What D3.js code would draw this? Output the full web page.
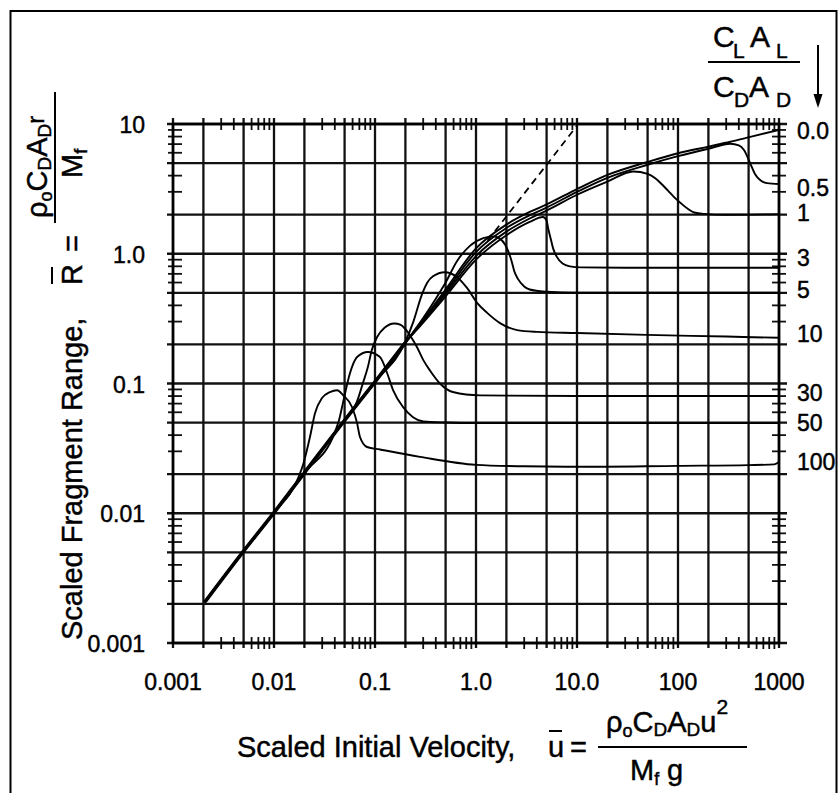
<!DOCTYPE html>
<html>
<head>
<meta charset="utf-8">
<script src="https://cdn.jsdelivr.net/npm/d3@7/dist/d3.min.js"></script>
<style>
  html, body { margin: 0; padding: 0; background: #fff; }
  svg { display: block; }
  text { font-family: "Liberation Sans", Arial, Helvetica, sans-serif; fill: #000; stroke: #000; stroke-width: 0.45px; }
</style>
</head>
<body>
<script>
// ---------------- data ----------------
const xTickValues = [0.001, 0.01, 0.1, 1, 10, 100, 1000];
const xTickLabels = ["0.001", "0.01", "0.1", "1.0", "10.0", "100", "1000"];
const yTickValues = [0.001, 0.01, 0.1, 1, 10];
const yTickLabels = ["0.001", "0.01", "0.1", "1.0", "10"];
const gridMultipliers = [1, 2, 5];
const minorMultipliers = [3, 4, 6, 7, 8, 9];

const liftRatioLabels = ["0.0", "0.5", "1", "3", "5", "10", "30", "50", "100"];
const liftLabelAt = [8.9, 3.2, 2.05, 0.93, 0.53, 0.24, 0.084, 0.05, 0.025];

// shared low-velocity trunk (u, R)
const trunk = [[0.0021,0.0021],[0.005,0.0051],[0.01,0.0101],[0.02,0.0205],[0.05,0.052],[0.1,0.103],[0.2,0.207]];

const curve0_0 = [[0.3,0.31],[0.5,0.53],[1,1.1],[2,1.68],[3.4,2.1],[5,2.4],[10,3.15],[20,4.05],[50,5.1],[100,5.95],[200,6.7],[330,7.3],[520,7.95],[1000,9.0]];
const curve0_5 = [[0.3,0.305],[0.5,0.51],[1,1.03],[2,1.58],[3.4,1.98],[5,2.27],[10,3.0],[20,3.85],[50,4.85],[100,5.65],[200,6.45],[330,7.05],[400,6.85],[450,6.3],[517,5.0],[580,4.1],[650,3.7],[760,3.5],[1000,3.45]];
const curve1 = [[0.3,0.30],[0.5,0.49],[1,0.96],[2,1.48],[3.4,1.87],[5,2.15],[10,2.85],[20,3.6],[36,4.3],[50,4.12],[60,3.8],[70,3.4],[80,3.05],[92,2.72],[105,2.48],[125,2.22],[145,2.08],[180,2.03],[300,2.0],[1000,2.02]];
const curve3 = [[0.3,0.295],[0.5,0.47],[1,0.9],[2,1.39],[3.4,1.76],[4.6,1.92],[5.0,1.8],[5.2,1.55],[5.5,1.3],[5.8,1.1],[6.3,0.95],[7.2,0.84],[8.5,0.8],[11,0.785],[30,0.78],[1000,0.78]];
const curve5 = [[0.3,0.32],[0.4,0.45],[0.5,0.6],[0.65,0.88],[0.87,1.15],[1.18,1.32],[1.5,1.36],[1.8,1.27],[2.06,1.07],[2.25,0.88],[2.4,0.73],[2.6,0.64],[3.0,0.56],[3.4,0.53],[5,0.51],[10,0.5],[1000,0.5]];
const curve10 = [[0.2,0.21],[0.24,0.3],[0.29,0.48],[0.33,0.6],[0.375,0.67],[0.49,0.72],[0.65,0.66],[0.815,0.545],[1.02,0.42],[1.29,0.35],[1.73,0.292],[2.55,0.258],[4,0.25],[10,0.245],[49,0.237],[300,0.23],[1000,0.225]];
const curve30 = [[0.058,0.06],[0.066,0.072],[0.076,0.101],[0.085,0.134],[0.093,0.181],[0.105,0.228],[0.125,0.27],[0.155,0.29],[0.18,0.283],[0.2,0.262],[0.23,0.225],[0.26,0.191],[0.3,0.152],[0.35,0.126],[0.44,0.1],[0.59,0.086],[1.1,0.081],[10,0.08],[1000,0.08]];
const curve50 = [[0.04,0.042],[0.044,0.052],[0.048,0.07],[0.0565,0.12],[0.0664,0.16],[0.085,0.175],[0.112,0.16],[0.132,0.12],[0.151,0.089],[0.189,0.066],[0.238,0.055],[0.3,0.051],[0.5,0.05],[1,0.0495],[1000,0.0495]];
const curve100 = [[0.0175,0.019],[0.0195,0.024],[0.0227,0.0387],[0.0255,0.0593],[0.0299,0.0773],[0.0358,0.0859],[0.0422,0.0887],[0.0482,0.0815],[0.0592,0.0659],[0.0664,0.0497],[0.071,0.0387],[0.0834,0.0324],[0.112,0.031],[0.279,0.0272],[1,0.0236],[3,0.023],[10,0.0228],[100,0.0232],[500,0.0235],[900,0.0238],[1000,0.0248]];

const dashedRef = [[1.3,1.26],[10,9.7]];

// ---------------- drawing ----------------
const W = 838, H = 793;
const svg = d3.select("body").append("svg").attr("width", W).attr("height", H);

// outer frame (bottom edge falls outside the picture)
svg.append("rect").attr("x", 10.5).attr("y", 11).attr("width", 826).attr("height", 800)
  .attr("fill", "none").attr("stroke", "#000").attr("stroke-width", 2);

const x = d3.scaleLog().domain([0.001, 1000]).range([173, 779]);
const y = d3.scaleLog().domain([0.001, 10]).range([643, 124]);

const xDecades = d3.range(-3, 3).map(p => Math.pow(10, p));   // 0.001 .. 100
const yDecades = d3.range(-3, 1).map(p => Math.pow(10, p));   // 0.001 .. 1

const gridX = [];
xDecades.forEach(d => gridMultipliers.forEach(m => gridX.push(+(d * m).toPrecision(3))));
gridX.push(1000);
const gridY = [];
yDecades.forEach(d => gridMultipliers.forEach(m => gridY.push(+(d * m).toPrecision(3))));
gridY.push(10);
const minorX = [];
xDecades.forEach(d => minorMultipliers.forEach(m => minorX.push(d * m)));
const minorY = [];
yDecades.forEach(d => minorMultipliers.forEach(m => minorY.push(d * m)));

const g = svg.append("g");

// grid lines (extend a little past the frame)
g.selectAll("line.gx").data(gridX).join("line").attr("class", "gx")
  .attr("x1", d => x(d)).attr("x2", d => x(d))
  .attr("y1", 118).attr("y2", 648)
  .attr("stroke", "#111").attr("stroke-width", 2.3);
g.selectAll("line.gy").data(gridY).join("line").attr("class", "gy")
  .attr("y1", d => y(d)).attr("y2", d => y(d))
  .attr("x1", 167).attr("x2", 787)
  .attr("stroke", "#111").attr("stroke-width", 2.3);

// minor ticks on all four sides
const tickStroke = 1.8;
g.selectAll("line.mb").data(minorX).join("line").attr("class", "mb")
  .attr("x1", d => x(d)).attr("x2", d => x(d)).attr("y1", 637).attr("y2", 649)
  .attr("stroke", "#111").attr("stroke-width", tickStroke);
g.selectAll("line.mt").data(minorX).join("line").attr("class", "mt")
  .attr("x1", d => x(d)).attr("x2", d => x(d)).attr("y1", 118).attr("y2", 130)
  .attr("stroke", "#111").attr("stroke-width", tickStroke);
g.selectAll("line.ml").data(minorY).join("line").attr("class", "ml")
  .attr("y1", d => y(d)).attr("y2", d => y(d)).attr("x1", 168).attr("x2", 182)
  .attr("stroke", "#111").attr("stroke-width", tickStroke);
g.selectAll("line.mr").data(minorY).join("line").attr("class", "mr")
  .attr("y1", d => y(d)).attr("y2", d => y(d)).attr("x1", 772).attr("x2", 786)
  .attr("stroke", "#111").attr("stroke-width", tickStroke);

// plot frame
g.append("rect").attr("x", x(0.001)).attr("y", y(10))
  .attr("width", x(1000) - x(0.001)).attr("height", y(0.001) - y(10))
  .attr("fill", "none").attr("stroke", "#000").attr("stroke-width", 2.6);

// tick labels
g.selectAll("text.xt").data(xTickValues).join("text").attr("class", "xt")
  .attr("x", d => x(d)).attr("y", 690).attr("text-anchor", "middle")
  .attr("font-size", 23).text((d, i) => xTickLabels[i]);
g.selectAll("text.yt").data(yTickValues).join("text").attr("class", "yt")
  .attr("x", 145).attr("y", d => y(d) + 9).attr("text-anchor", "end")
  .attr("font-size", 23).text((d, i) => yTickLabels[i]);

// curves
const line = d3.line().x(d => x(d[0])).y(d => y(d[1])).curve(d3.curveMonotoneX);
function withTrunk(own) {
  const u0 = own[0][0];
  return trunk.filter(p => p[0] < u0 * 0.97).concat(own);
}
const allCurves = [curve0_0, curve0_5, curve1, curve3, curve5, curve10, curve30, curve50, curve100];

const cg = svg.append("g").attr("fill", "none").attr("stroke", "#000")
  .attr("stroke-linejoin", "round").attr("stroke-linecap", "round");
cg.append("path").attr("d", line(trunk)).attr("stroke-width", 3.6);
cg.selectAll("path.c").data(allCurves).join("path").attr("class", "c")
  .attr("d", d => line(withTrunk(d))).attr("stroke-width", 1.9);
cg.append("path").attr("d", d3.line().x(d => x(d[0])).y(d => y(d[1]))(dashedRef))
  .attr("stroke-width", 1.8).attr("stroke-dasharray", "7,5").attr("stroke-linecap", "butt");

// right-hand lift-ratio labels
svg.selectAll("text.lr").data(liftRatioLabels).join("text").attr("class", "lr")
  .attr("x", 797).attr("y", (d, i) => y(liftLabelAt[i]) + 8)
  .attr("font-size", 23).text(d => d);

// header fraction C_L A_L / C_D A_D with arrow
const hdr = svg.append("g");
const hNum = hdr.append("text").attr("font-size", 30);
hNum.append("tspan").attr("x", 713).attr("y", 47).text("C");
hNum.append("tspan").attr("x", 733).attr("y", 58).attr("font-size", 21).text("L");
hNum.append("tspan").attr("x", 750).attr("y", 47).text("A");
hNum.append("tspan").attr("x", 776).attr("y", 58).attr("font-size", 21).text("L");
hdr.append("line").attr("x1", 708).attr("x2", 800).attr("y1", 62).attr("y2", 62)
  .attr("stroke", "#000").attr("stroke-width", 2);
const hDen = hdr.append("text").attr("font-size", 30);
hDen.append("tspan").attr("x", 713).attr("y", 97).text("C");
hDen.append("tspan").attr("x", 734).attr("y", 107).attr("font-size", 21).text("D");
hDen.append("tspan").attr("x", 749).attr("y", 97).text("A");
hDen.append("tspan").attr("x", 776).attr("y", 107).attr("font-size", 21).text("D");
hdr.append("line").attr("x1", 818).attr("x2", 818).attr("y1", 45).attr("y2", 97)
  .attr("stroke", "#000").attr("stroke-width", 2);
hdr.append("path").attr("d", "M813.5,94 L822.5,94 L818,108 Z").attr("fill", "#000");

// x axis title
const xt = svg.append("g");
xt.append("text").attr("x", 237).attr("y", 757).attr("font-size", 29).text("Scaled Initial Velocity,");
xt.append("text").attr("x", 548).attr("y", 757).attr("font-size", 29).text("u");
xt.append("line").attr("x1", 549).attr("x2", 562).attr("y1", 731).attr("y2", 731)
  .attr("stroke", "#000").attr("stroke-width", 2);
xt.append("text").attr("x", 570).attr("y", 757).attr("font-size", 29).text("=");
xt.append("line").attr("x1", 598).attr("x2", 747).attr("y1", 747).attr("y2", 747)
  .attr("stroke", "#000").attr("stroke-width", 2);
const xn = xt.append("text").attr("font-size", 29);
xn.append("tspan").attr("x", 606).attr("y", 732).text("ρ");
xn.append("tspan").attr("y", 737).attr("font-size", 18).text("o");
xn.append("tspan").attr("y", 732).text("C");
xn.append("tspan").attr("y", 736).attr("font-size", 19).text("D");
xn.append("tspan").attr("y", 732).text("A");
xn.append("tspan").attr("y", 736).attr("font-size", 19).text("D");
xn.append("tspan").attr("y", 732).text("u");
xn.append("tspan").attr("y", 714).attr("font-size", 21).text("2");
const xd = xt.append("text").attr("font-size", 29);
xd.append("tspan").attr("x", 630).attr("y", 780).text("M");
xd.append("tspan").attr("y", 785).attr("font-size", 18).text("f");
xd.append("tspan").attr("x", 667).attr("y", 780).text("g");

// y axis title (rotated)
const yt = svg.append("g").attr("transform", "rotate(-90)");
yt.append("text").attr("x", -640).attr("y", 82).attr("font-size", 29).text("Scaled Fragment Range,");
yt.append("text").attr("x", -285).attr("y", 82).attr("font-size", 29).text("R");
yt.append("line").attr("x1", -284).attr("x2", -267).attr("y1", 52).attr("y2", 52)
  .attr("stroke", "#000").attr("stroke-width", 2);
yt.append("text").attr("x", -252).attr("y", 82).attr("font-size", 29).text("=");
yt.append("line").attr("x1", -223).attr("x2", -92).attr("y1", 55).attr("y2", 55)
  .attr("stroke", "#000").attr("stroke-width", 2);
const yn = yt.append("text").attr("font-size", 29);
yn.append("tspan").attr("x", -218).attr("y", 47).text("ρ");
yn.append("tspan").attr("y", 52).attr("font-size", 18).text("o");
yn.append("tspan").attr("y", 47).text("C");
yn.append("tspan").attr("y", 51).attr("font-size", 19).text("D");
yn.append("tspan").attr("y", 47).text("A");
yn.append("tspan").attr("y", 51).attr("font-size", 19).text("D");
yn.append("tspan").attr("y", 44).attr("font-size", 24).text("r");
const yd = yt.append("text").attr("font-size", 29);
yd.append("tspan").attr("x", -178).attr("y", 82).text("M");
yd.append("tspan").attr("y", 87).attr("font-size", 18).text("f");
</script>
</body>
</html>
